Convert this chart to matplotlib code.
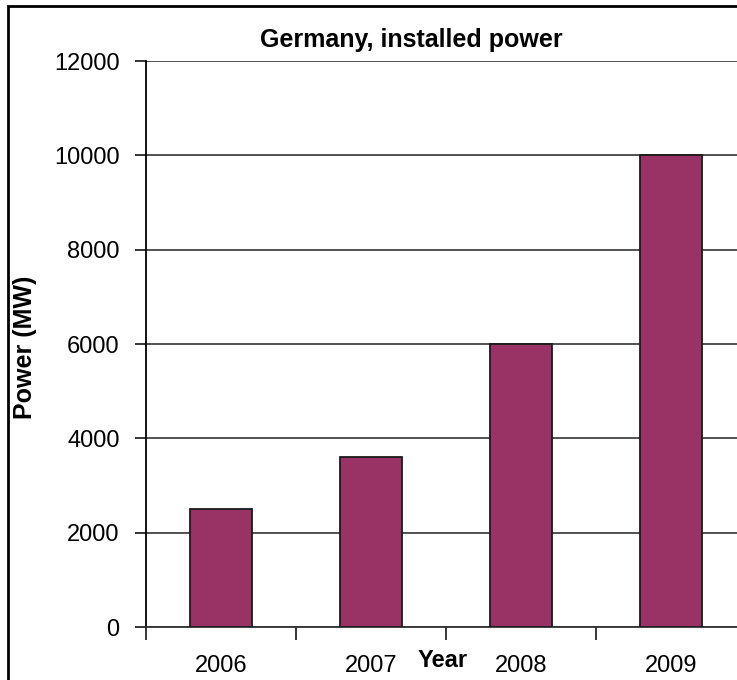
import matplotlib.pyplot as plt
from matplotlib.patches import Rectangle

# data
years = ['2006', '2007', '2008', '2009']
power = [2500, 3600, 6000, 10000]

plt.rcParams['font.family'] = ['Liberation Sans', 'DejaVu Sans']

W, H = 737, 680
fig = plt.figure(figsize=(W / 100, H / 100), dpi=100)

# plot area: left 146px, right past the edge (cropped), top 61px, bottom 627px
ax = fig.add_axes([146 / W, 1 - 627 / H, 600 / W, (627 - 61) / H])

x = range(len(years))
ax.bar(x, power, width=0.41, color='#993366', edgecolor='#1a1a1a', linewidth=1.3, zorder=3)

ax.set_xlim(-0.5, 3.5)
ax.set_ylim(0, 12000)
ax.set_yticks(range(0, 12001, 2000))
ax.yaxis.grid(True, color='#222222', linewidth=1.1, zorder=0)
ax.tick_params(axis='y', labelsize=17, length=8, width=1.1, pad=11)

# category labels in the middle, tick marks on the boundaries
ax.set_xticks(list(x))
ax.set_xticklabels(years, fontsize=17)
ax.tick_params(axis='x', which='major', length=0, pad=20)
ax.set_xticks([-0.5, 0.5, 1.5, 2.5], minor=True)
ax.tick_params(axis='x', which='minor', length=9, width=1.1)

for s in ['top', 'right']:
    ax.spines[s].set_visible(False)
ax.spines['left'].set_linewidth(1.3)
ax.spines['bottom'].set_linewidth(1.3)
ax.spines['bottom'].set_color('#333333')

fig.text(260 / W, 1 - 47 / H, 'Germany, installed power', ha='left', va='baseline',
         fontsize=18, fontweight='bold')
fig.text(25 / W, 1 - 347 / H, 'Power (MW)', ha='center', va='center', rotation=90,
         fontsize=18, fontweight='bold')
fig.text(443 / W, 1 - 667 / H, 'Year', ha='center', va='baseline', fontsize=17, fontweight='bold')

# outer chart border (right and bottom sides fall outside the image)
fig.patches.append(Rectangle((8 / W, -0.05), 1.1, 1 - 6 / H + 0.05, transform=fig.transFigure,
                             fill=False, edgecolor='black', linewidth=2))

fig.savefig('out.png', dpi=100)
